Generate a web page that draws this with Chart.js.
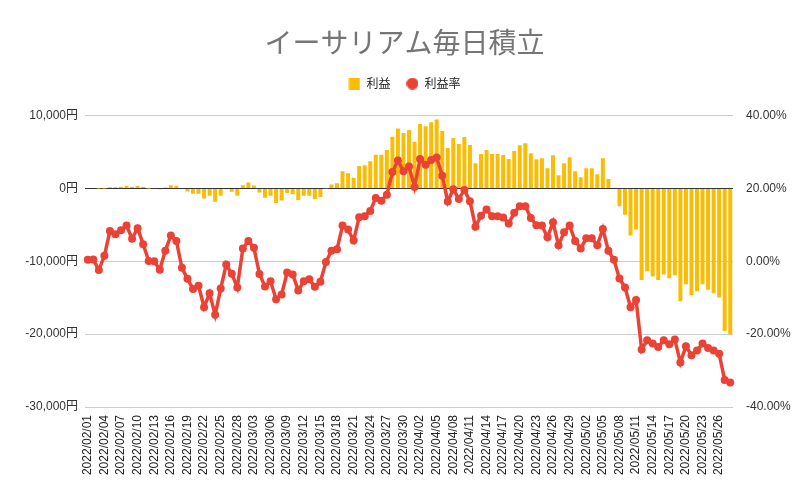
<!DOCTYPE html>
<html>
<head>
<meta charset="utf-8">
<script src="https://cdn.jsdelivr.net/npm/chart.js@4"></script>
<style>
  html, body { margin: 0; padding: 0; background: #fff; }
  #wrap { width: 809px; height: 499px; }
</style>
</head>
<body>
<div id="wrap"><canvas id="chart" width="809" height="499"></canvas></div>
<script>
// 2022/02/01 .. 2022/05/28, one entry per day
const startDate = "2022-02-01";
const dayCount = 117;

// 利益 (yen)
const profit = [
  0, 0, -20, 10, 150, 150, 230, 360, 230, 360,
  230, 5, 0, -100, 140, 455, 360, -90, -430, -730,
  -730, -1365, -1000, -1820, -1000, -100, -455, -1000, 455, 820,
  410, -546, -1275, -1000, -2000, -1640, -640, -780, -1600, -1000,
  -1000, -1460, -1180, -50, 546, 730, 2370, 2090, 1455, 3090,
  3185, 3730, 4640, 4640, 5280, 7100, 8230, 7600, 8010, 6415,
  8830, 8550, 9100, 9460, 7870, 5550, 6915, 6100, 7050, 5960,
  3460, 4730, 5280, 4730, 4730, 4580, 4050, 5140, 5915, 6190,
  4820, 4000, 4140, 2775, 4550, 1820, 3460, 4280, 2370, 1550,
  2775, 2775, 1960, 4140, 1300, 90, -2460, -3600, -6460, -5640,
  -12560, -11380, -12100, -12560, -11800, -12330, -11920, -15470, -13150, -14650,
  -14100, -13150, -13920, -14380, -14970, -19570, -20020
];

// 利益率 (%)
const rate = [
  0.4, 0.5, -2.4, 1.5, 8.3, 7.4, 8.5, 9.8, 6.2, 9.1,
  4.7, 0.1, 0.0, -2.3, 2.9, 7.1, 5.6, -1.8, -4.8, -7.6,
  -6.7, -12.6, -8.8, -14.7, -7.5, -0.9, -3.4, -7.2, 3.5, 5.6,
  3.7, -3.5, -6.9, -5.5, -10.4, -9.1, -3.1, -3.6, -8.0, -5.5,
  -4.9, -7.0, -5.6, -0.2, 2.9, 3.3, 9.8, 8.7, 5.7, 12.1,
  12.4, 13.8, 17.4, 16.6, 18.3, 24.5, 27.7, 24.7, 26.0, 20.4,
  28.1, 26.5, 27.8, 28.5, 23.5, 16.4, 19.8, 17.1, 19.6, 16.5,
  9.5, 12.5, 14.2, 12.4, 12.4, 12.0, 10.4, 13.3, 15.1, 15.1,
  11.9, 9.9, 9.8, 6.6, 10.7, 4.4, 8.0, 9.8, 5.6, 3.5,
  6.3, 6.3, 4.4, 8.9, 2.9, 0.4, -4.7, -7.2, -12.6, -10.6,
  -24.2, -21.7, -22.6, -23.5, -21.7, -22.8, -21.5, -27.8, -23.3, -25.8,
  -24.5, -22.6, -23.8, -24.5, -25.4, -32.6, -33.3
];

const yenTicks = [-30000, -20000, -10000, 0, 10000];
const pctTicks = [-40, -20, 0, 20, 40];

const labels = [];
const d0 = new Date(startDate + "T00:00:00Z");
for (let i = 0; i < dayCount; i++) {
  const d = new Date(d0.getTime() + i * 86400000);
  const mm = String(d.getUTCMonth() + 1).padStart(2, "0");
  const dd = String(d.getUTCDate()).padStart(2, "0");
  labels.push(d.getUTCFullYear() + "/" + mm + "/" + dd);
}

const YELLOW = "#fbbc04";
const RED = "#ea4335";
const tickFont = { family: "Arial, 'Liberation Sans', 'Noto Sans CJK JP', sans-serif", size: 12 };

function marker(kind, color) {
  const c = document.createElement("canvas");
  c.width = 12; c.height = 12;
  const g = c.getContext("2d");
  g.fillStyle = color;
  if (kind === "rect") {
    g.fillRect(0.5, 0, 11, 12);
  } else {
    g.beginPath(); g.arc(6, 6, 6, 0, Math.PI * 2); g.fill();
  }
  return c;
}
const legendMarks = [marker("rect", YELLOW), marker("circle", RED)];

// extra room between the legend and the plot
const legendGap = {
  id: "legendGap",
  afterInit: function (chart) {
    const fit = chart.legend.fit;
    chart.legend.fit = function () {
      fit.call(this);
      this.height += 16;
    };
  }
};

const ctx = document.getElementById("chart").getContext("2d");
new Chart(ctx, {
  type: "bar",
  data: {
    labels: labels,
    datasets: [
      {
        type: "bar",
        label: "利益",
        data: profit,
        backgroundColor: YELLOW,
        yAxisID: "y",
        barPercentage: 0.9,
        categoryPercentage: 0.8,
        order: 1
      },
      {
        type: "line",
        label: "利益率",
        data: rate,
        borderColor: RED,
        backgroundColor: RED,
        borderWidth: 3.5,
        pointRadius: 4,
        pointBorderWidth: 0,
        pointBackgroundColor: RED,
        tension: 0,
        yAxisID: "y1",
        order: 0
      }
    ]
  },
  plugins: [legendGap],
  options: {
    responsive: false,
    animation: false,
    layout: { padding: { top: 18, left: 0, right: 0, bottom: 0 } },
    plugins: {
      title: {
        display: true,
        text: "イーサリアム毎日積立",
        color: "#757575",
        font: { family: "'Noto Sans CJK JP', sans-serif", size: 28, weight: "normal" },
        padding: { top: 8, bottom: 2 }
      },
      legend: {
        display: true,
        labels: {
          usePointStyle: true,
          boxWidth: 12,
          boxHeight: 12,
          padding: 16,
          color: "#222",
          font: { family: "'Noto Sans CJK JP', sans-serif", size: 12 },
          generateLabels: function (chart) {
            const items = Chart.defaults.plugins.legend.labels.generateLabels(chart);
            items.sort(function (a, b) { return a.datasetIndex - b.datasetIndex; });
            items.forEach(function (it) { it.pointStyle = legendMarks[it.datasetIndex]; });
            return items;
          }
        }
      },
      tooltip: { enabled: false }
    },
    scales: {
      x: {
        grid: { display: false },
        border: { display: false },
        ticks: {
          autoSkip: false,
          maxRotation: 90,
          minRotation: 90,
          padding: 0,
          color: "#222",
          font: tickFont,
          callback: function (v, i) { return i % 3 === 0 ? labels[i] : null; }
        },
        afterFit: function (s) { s.height = 92; }
      },
      y: {
        position: "left",
        min: yenTicks[0],
        max: yenTicks[yenTicks.length - 1],
        border: { display: false },
        grid: {
          drawTicks: false,
          color: function (c) { return c.tick && c.tick.value === 0 ? "#333" : "#cccccc"; }
        },
        afterBuildTicks: function (s) { s.ticks = yenTicks.map(function (v) { return { value: v }; }); },
        ticks: {
          padding: 7,
          color: "#333",
          font: tickFont,
          callback: function (v) { return v.toLocaleString("en-US") + "円"; }
        },
        afterFit: function (s) { s.width = 85; }
      },
      y1: {
        position: "right",
        min: pctTicks[0],
        max: pctTicks[pctTicks.length - 1],
        border: { display: false },
        grid: { display: false, drawOnChartArea: false },
        afterBuildTicks: function (s) { s.ticks = pctTicks.map(function (v) { return { value: v }; }); },
        ticks: {
          padding: 5,
          color: "#333",
          font: tickFont,
          callback: function (v) { return v.toFixed(2) + "%"; }
        },
        afterFit: function (s) { s.width = 76; }
      }
    }
  }
});
</script>
</body>
</html>
